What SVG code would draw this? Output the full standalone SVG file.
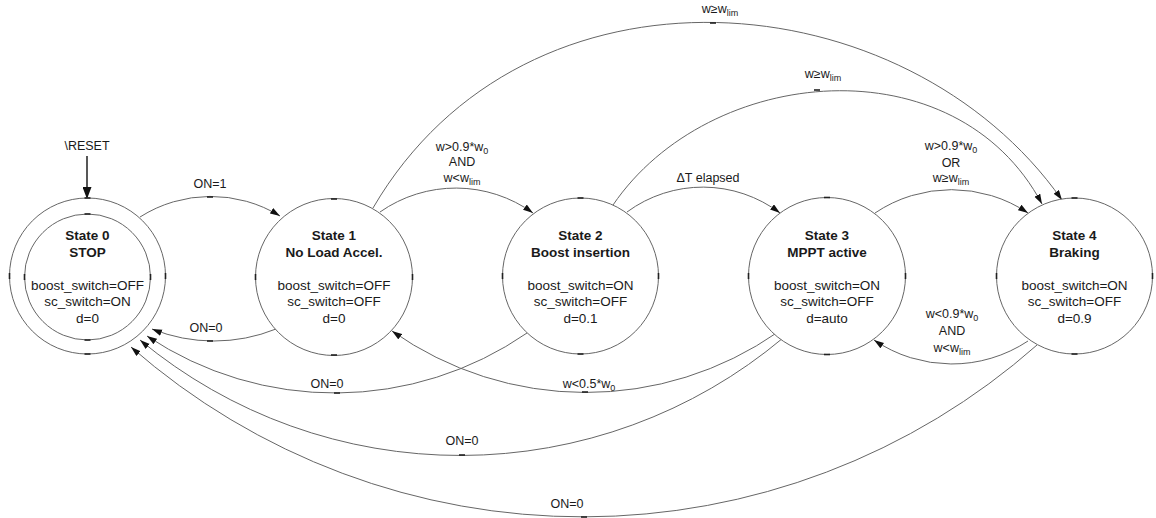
<svg xmlns="http://www.w3.org/2000/svg" width="1156" height="518" viewBox="0 0 1156 518">
<defs>
<marker id="arr" markerWidth="11" markerHeight="7" refX="10" refY="3.25" orient="auto" markerUnits="userSpaceOnUse">
<path d="M0,0 L10,3.25 L0,6.5 z" fill="#111"/>
</marker>
<marker id="arrbig" markerWidth="13" markerHeight="9" refX="12" refY="4.5" orient="auto" markerUnits="userSpaceOnUse">
<path d="M0,0 L12,4.5 L0,9 z" fill="#111"/>
</marker>
<style>
.st{fill:#fff;stroke:#666;stroke-width:1}
.e{fill:none;stroke:#666;stroke-width:1;marker-end:url(#arr)}
.rs{fill:none;stroke:#111;stroke-width:1.4;marker-end:url(#arrbig)}
.tk{stroke:#222;stroke-width:1.6}
text{font-family:"Liberation Sans",Arial,sans-serif;fill:#1a1a1a;text-anchor:middle}
.t{font-size:13.5px;font-weight:bold}
.b{font-size:13.5px}
.l{font-size:12.5px}
.s{font-size:9px}
</style>
</defs>
<rect width="1156" height="518" fill="#fff"/>

<g id="connectors">
<path class="rs" d="M87,156 L87,199"/>
<path class="e" d="M140,217 A132,132 0 0 1 280,216"/>
<path class="e" d="M276,329 A166,166 0 0 1 152,329"/>
<path class="e" d="M380,212 A132,132 0 0 1 533,213"/>
<path class="e" d="M627,212 A128,128 0 0 1 780,213"/>
<path class="e" d="M875,213 A137,137 0 0 1 1028,213"/>
<path class="e" d="M1028,341 A138,138 0 0 1 874,340"/>
<path class="e" d="M778,332 A336,336 0 0 1 392,331"/>
<path class="e" d="M527,333 A338,338 0 0 1 147,336"/>
<path class="e" d="M783,338 A502,502 0 0 1 140,340"/>
<path class="e" d="M1037,345 A686,686 0 0 1 131,347"/>
<path class="e" d="M373,208 C526,-54 906,-22 1062,200"/>
<path class="e" d="M613,205 C709.5,63.7 956,42.3 1042,204"/>
<g id="ticks">
<line class="tk" x1="207" y1="197" x2="213" y2="197"/>
<line class="tk" x1="207" y1="341" x2="213" y2="341"/>
<line class="tk" x1="710" y1="23" x2="716" y2="23"/>
<line class="tk" x1="814" y1="90" x2="820" y2="90"/>
<line class="tk" x1="334" y1="393" x2="340" y2="393"/>
<line class="tk" x1="582" y1="392" x2="588" y2="392"/>
<line class="tk" x1="459" y1="455" x2="465" y2="455"/>
<line class="tk" x1="581" y1="517" x2="587" y2="517"/>
</g>
</g>

<g id="edge-labels">
<text class="l" x="87" y="150">\RESET</text>
<text class="l" x="210" y="188">ON=1</text>
<text class="l" x="206" y="332">ON=0</text>
<text class="l" x="462" y="151">w&gt;0.9*w<tspan class="s" dy="3">0</tspan></text>
<text class="l" x="462" y="166">AND</text>
<text class="l" x="462" y="182">w&lt;w<tspan class="s" dy="3">lim</tspan></text>
<text class="l" x="708" y="182">ΔT elapsed</text>
<text class="l" x="720" y="13">w≥w<tspan class="s" dy="3">lim</tspan></text>
<text class="l" x="823" y="78">w≥w<tspan class="s" dy="3">lim</tspan></text>
<text class="l" x="951" y="150">w&gt;0.9*w<tspan class="s" dy="3">0</tspan></text>
<text class="l" x="951" y="167">OR</text>
<text class="l" x="951" y="182">w≥w<tspan class="s" dy="3">lim</tspan></text>
<text class="l" x="952" y="318">w&lt;0.9*w<tspan class="s" dy="3">0</tspan></text>
<text class="l" x="952" y="335">AND</text>
<text class="l" x="952" y="352">w&lt;w<tspan class="s" dy="3">lim</tspan></text>
<text class="l" x="327" y="388">ON=0</text>
<text class="l" x="589" y="388">w&lt;0.5*w<tspan class="s" dy="3">0</tspan></text>
<text class="l" x="462" y="445">ON=0</text>
<text class="l" x="567" y="508">ON=0</text>
</g>

<g id="node-s0">
<circle class="st" cx="87.5" cy="276" r="78"/>
<circle class="st" cx="87.5" cy="277" r="63"/>
<line class="tk" x1="84.5" y1="198" x2="90.5" y2="198"/>
<line class="tk" x1="84.5" y1="354" x2="90.5" y2="354"/>
<line class="tk" x1="9.5" y1="273" x2="9.5" y2="279"/>
<line class="tk" x1="165.5" y1="273" x2="165.5" y2="279"/>
<line class="tk" x1="84.5" y1="214" x2="90.5" y2="214"/>
<line class="tk" x1="84.5" y1="340" x2="90.5" y2="340"/>
<line class="tk" x1="24.5" y1="274" x2="24.5" y2="280"/>
<line class="tk" x1="150.5" y1="274" x2="150.5" y2="280"/>
<text class="t" x="87.5" y="240">State 0</text>
<text class="t" x="87.5" y="257">STOP</text>
<text class="b" x="87.5" y="289.5">boost_switch=OFF</text>
<text class="b" x="87.5" y="306">sc_switch=ON</text>
<text class="b" x="87.5" y="322.5">d=0</text>
</g>

<g id="node-s1">
<circle class="st" cx="334" cy="277" r="78.5"/>
<line class="tk" x1="331" y1="199" x2="337" y2="199"/>
<line class="tk" x1="331" y1="355" x2="337" y2="355"/>
<line class="tk" x1="255.5" y1="274" x2="255.5" y2="280"/>
<line class="tk" x1="412.5" y1="274" x2="412.5" y2="280"/>
<text class="t" x="334" y="240">State 1</text>
<text class="t" x="334" y="257">No Load Accel.</text>
<text class="b" x="334" y="289.5">boost_switch=OFF</text>
<text class="b" x="334" y="306">sc_switch=OFF</text>
<text class="b" x="334" y="322.5">d=0</text>
</g>

<g id="node-s2">
<circle class="st" cx="580.5" cy="276" r="78"/>
<line class="tk" x1="577.5" y1="198" x2="583.5" y2="198"/>
<line class="tk" x1="577.5" y1="354" x2="583.5" y2="354"/>
<line class="tk" x1="502.5" y1="273" x2="502.5" y2="279"/>
<line class="tk" x1="658.5" y1="273" x2="658.5" y2="279"/>
<text class="t" x="580.5" y="240">State 2</text>
<text class="t" x="580.5" y="257">Boost insertion</text>
<text class="b" x="580.5" y="289.5">boost_switch=ON</text>
<text class="b" x="580.5" y="306">sc_switch=OFF</text>
<text class="b" x="580.5" y="322.5">d=0.1</text>
</g>

<g id="node-s3">
<circle class="st" cx="827" cy="276" r="78.5"/>
<line class="tk" x1="824" y1="197.5" x2="830" y2="197.5"/>
<line class="tk" x1="824" y1="354.5" x2="830" y2="354.5"/>
<line class="tk" x1="748.5" y1="273" x2="748.5" y2="279"/>
<line class="tk" x1="905.5" y1="273" x2="905.5" y2="279"/>
<text class="t" x="827" y="240">State 3</text>
<text class="t" x="827" y="257">MPPT active</text>
<text class="b" x="827" y="289.5">boost_switch=ON</text>
<text class="b" x="827" y="306">sc_switch=OFF</text>
<text class="b" x="827" y="322.5">d=auto</text>
</g>

<g id="node-s4">
<circle class="st" cx="1074.5" cy="276" r="78"/>
<line class="tk" x1="1071.5" y1="198" x2="1077.5" y2="198"/>
<line class="tk" x1="1071.5" y1="354" x2="1077.5" y2="354"/>
<line class="tk" x1="996.5" y1="273" x2="996.5" y2="279"/>
<line class="tk" x1="1152.5" y1="273" x2="1152.5" y2="279"/>
<text class="t" x="1074.5" y="240">State 4</text>
<text class="t" x="1074.5" y="257">Braking</text>
<text class="b" x="1074.5" y="289.5">boost_switch=ON</text>
<text class="b" x="1074.5" y="306">sc_switch=OFF</text>
<text class="b" x="1074.5" y="322.5">d=0.9</text>
</g>
</svg>
